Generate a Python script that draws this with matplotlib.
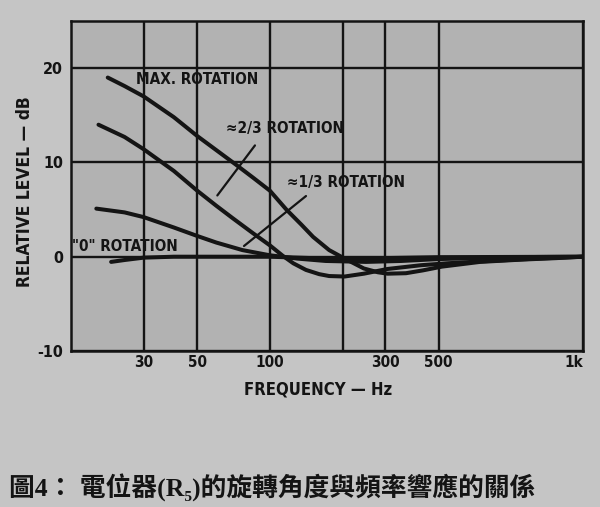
import numpy as np
import matplotlib

matplotlib.use("Agg")
import matplotlib.pyplot as plt

# values (frequency in Hz, relative level in dB)
max_freq = [21.3, 25, 30, 40, 50, 60, 72, 85, 100, 117, 135, 151, 176, 204,
            245, 280, 307, 366, 430, 508, 610, 750, 880, 1000]
max_db = [19.0, 18.1, 17.0, 14.8, 12.8, 11.3, 9.8, 8.4, 7.0, 5.0, 3.4, 2.1,
          0.7, -0.2, -1.25, -1.65, -1.8, -1.75, -1.45, -1.05, -0.55, -0.3,
          -0.15, 0.0]

two_thirds_freq = [19.5, 25, 30, 40, 50, 60, 70, 85, 100, 113, 125, 141, 160,
                   176, 204, 245, 307, 423, 520, 610, 800, 1000]
two_thirds_db = [14.0, 12.7, 11.4, 9.1, 7.0, 5.4, 4.1, 2.5, 1.2, 0.1, -0.7,
                 -1.4, -1.85, -2.05, -2.1, -1.8, -1.3, -0.9, -0.7, -0.5, -0.2,
                 0.0]

one_third_freq = [19.1, 25, 30, 40, 50, 60, 77, 100, 130, 170, 250, 350, 500,
                  700, 1000]
one_third_db = [5.1, 4.7, 4.2, 3.1, 2.2, 1.5, 0.7, 0.15, -0.2, -0.45, -0.55,
                -0.45, -0.25, -0.05, 0.0]

zero_freq = [22, 25, 30, 40, 100, 150, 200, 300, 500, 1000]
zero_db = [-0.55, -0.35, -0.1, 0.0, 0.0, -0.15, -0.2, -0.15, -0.05, 0.0]

x_ticks = [30, 50, 100, 200, 300, 500, 1000]
x_tick_labels = ["30", "50", "100", "", "300", "500", "1k"]
y_ticks = [-10, 0, 10, 20]
y_tick_labels = ["-10", "0", "10", "20"]

caption = "圖4： 電位器(R₅)的旋轉角度與頻率響應的關係"

# the printed grid is log up to 500 Hz, then 500 Hz - 1k is stretched
KNEE = np.log10(500.0)
STRETCH = 1.985


def forward(x):
    lx = np.log10(np.clip(np.asarray(x, dtype=float), 1e-3, None))
    return np.where(lx <= KNEE, lx, KNEE + (lx - KNEE) * STRETCH)


def inverse(y):
    y = np.asarray(y, dtype=float)
    return np.where(y <= KNEE, 10.0 ** y, 10.0 ** (KNEE + (y - KNEE) / STRETCH))


ink = "#141414"
label_font = dict(family="DejaVu Sans", fontstretch="condensed",
                  fontweight="bold", color=ink)

fig = plt.figure(figsize=(6.0, 5.07), dpi=100, facecolor="#c5c5c5")
ax = fig.add_axes([0.1183, 0.3077, 0.8533, 0.6509], facecolor="#b2b2b2")
ax.set_xscale("function", functions=(forward, inverse))
ax.set_xlim(15, 1000)
ax.set_ylim(-10, 25)

ax.set_xticks(x_ticks)
ax.set_xticklabels(x_tick_labels, fontsize=11, **label_font)
ax.xaxis.get_majorticklabels()[-1].set_horizontalalignment("right")
ax.set_yticks(y_ticks)
ax.set_yticklabels(y_tick_labels, fontsize=11.5, **label_font)
ax.minorticks_off()
ax.tick_params(axis="x", length=0, pad=3)
ax.tick_params(axis="y", length=0, pad=5.5)
ax.grid(True, color=ink, linewidth=1.7)
ax.set_axisbelow(True)
for spine in ax.spines.values():
    spine.set_linewidth(1.8)
    spine.set_color(ink)

curve_style = dict(color=ink, linewidth=2.9, solid_capstyle="round",
                   solid_joinstyle="round")
ax.plot(max_freq, max_db, **curve_style)
ax.plot(two_thirds_freq, two_thirds_db, **curve_style)
ax.plot(one_third_freq, one_third_db, **curve_style)
ax.plot(zero_freq, zero_db, **curve_style)

ax.text(27.8, 18.76, "MAX. ROTATION", fontsize=11, ha="left", va="center",
        **label_font)
ax.text(65.6, 13.55, "≈2/3 ROTATION", fontsize=11, ha="left", va="center",
        **label_font)
ax.text(117.5, 7.82, "≈1/3 ROTATION", fontsize=11, ha="left", va="center",
        **label_font)
ax.text(15.2, 1.13, "\"0\" ROTATION", fontsize=11, ha="left", va="center",
        **label_font)

leader = dict(arrowstyle="-", color=ink, linewidth=1.6)
ax.annotate("", xy=(59.6, 6.26), xytext=(88.1, 12.04), arrowprops=leader)
ax.annotate("", xy=(76.5, 0.95), xytext=(144, 6.62), arrowprops=leader)

ax.set_xlabel("FREQUENCY — Hz", fontsize=12, ha="center", va="center",
              **label_font)
ax.xaxis.set_label_coords(0.482, -0.118)
ax.set_ylabel("RELATIVE LEVEL — dB", fontsize=12.5, ha="center", va="center",
              **label_font)
ax.yaxis.set_label_coords(-0.089, 0.483)

fig.text(9 / 600, 1 - 488 / 507, caption, fontsize=18.5, fontweight="bold",
         family=["Liberation Serif", "Noto Sans CJK TC"], color=ink,
         ha="left", va="center")

fig.savefig("out.png", dpi=100, facecolor=fig.get_facecolor())
